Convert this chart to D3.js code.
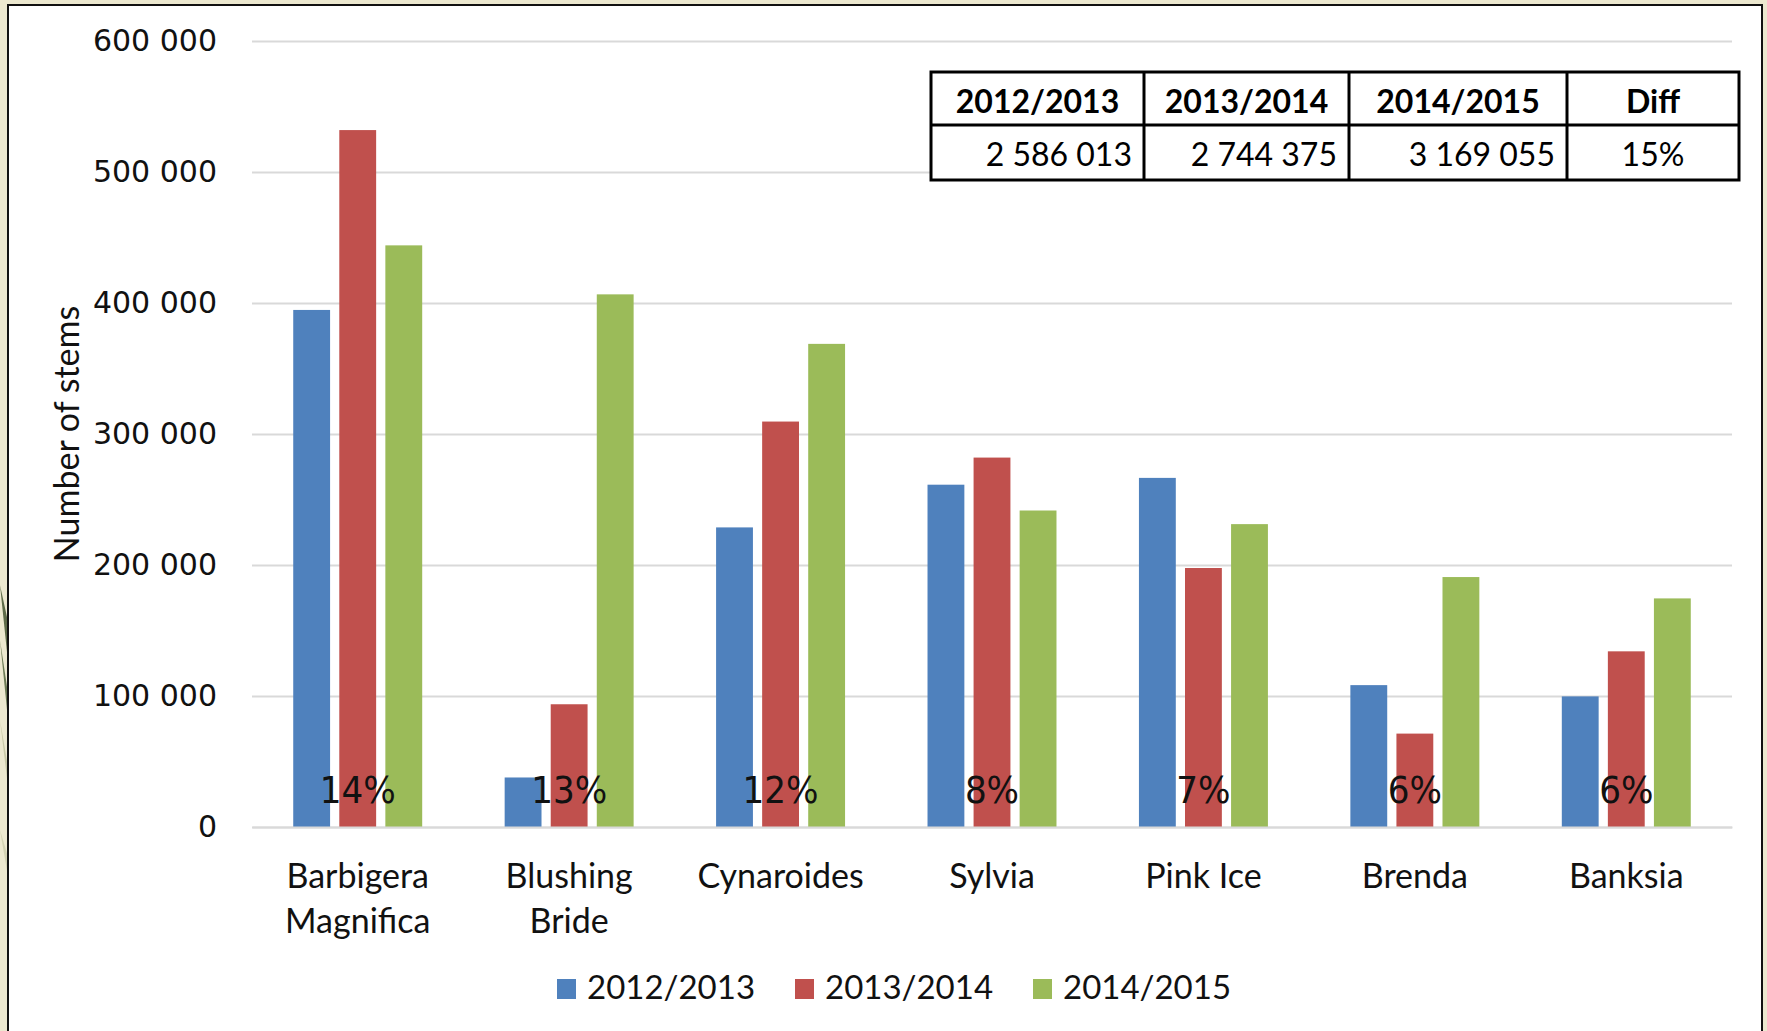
<!DOCTYPE html>
<html>
<head>
<meta charset="utf-8">
<script src="https://cdn.jsdelivr.net/npm/d3@7"></script>
<style>
  html, body { margin: 0; padding: 0; background: #ece8cf; overflow: hidden; }
  svg { display: block; }
</style>
</head>
<body>
<svg id="chart"></svg>
<script>
// data
const categories = ['Barbigera Magnifica', 'Blushing Bride', 'Cynaroides', 'Sylvia', 'Pink Ice', 'Brenda', 'Banksia']
const seriesNames = ['2012/2013', '2013/2014', '2014/2015']
const values2012 = [394700, 37800, 228700, 261300, 266500, 108300, 99700]
const values2013 = [532000, 93700, 309500, 282000, 197700, 71300, 134100]
const values2014 = [444000, 406600, 368800, 241600, 231200, 190800, 174500]
const pctLabels = ['14%', '13%', '12%', '8%', '7%', '6%', '6%']
const yTicks = [0, 100000, 200000, 300000, 400000, 500000, 600000]
const tableHeaders = ['2012/2013', '2013/2014', '2014/2015', 'Diff']
const tableValues = ['2 586 013', '2 744 375', '3 169 055', '15%']
const colors = ['#4f81bd', '#c0504d', '#9bbb59']

const width = 1767, height = 1031
const padding = {top: 41, bottom: 204, left: 252, right: 35}

const svg = d3.select('#chart').attr('width', width).attr('height', height)

// background leaves peeking at the left edge
const leaves = svg.append('g')
leaves.append('path').attr('d', 'M0,585 L12,640 L12,700 Z').attr('fill', '#5e6b49')
leaves.append('path').attr('d', 'M0,640 L12,720 L12,760 Z').attr('fill', '#6c7a55')
leaves.append('path').attr('d', 'M0,720 L12,790 L12,820 Z').attr('fill', '#c9c9a8')
leaves.append('path').attr('d', 'M0,830 L12,870 L12,900 Z').attr('fill', '#d3d2b3')

// chart frame
svg.append('rect')
  .attr('x', 8).attr('y', 5)
  .attr('width', 1754).attr('height', 1040)
  .attr('fill', '#fff').attr('stroke', '#111').attr('stroke-width', 2)

const data = categories.map((c, i) => ({
  category: c,
  values: [values2012[i], values2013[i], values2014[i]]
}))

const x0 = d3.scaleBand().domain(categories).range([padding.left, width - padding.right])
const bw = x0.bandwidth()
const x1 = d3.scaleBand().domain(seriesNames).range([bw * 0.195, bw * 0.805]).paddingInner(0.2)
const y = d3.scaleLinear().domain([0, 600000]).range([height - padding.bottom, padding.top])

const locale = d3.formatLocale({decimal: '.', thousands: ' ', grouping: [3], currency: ['', '']})
const fmt = locale.format(',')

// y axis with grid lines
const yAxis = d3.axisLeft(y).tickValues(yTicks).tickFormat(fmt)
  .tickSize(-(width - padding.left - padding.right)).tickPadding(35)
const yAxisG = svg.append('g').attr('class', 'y-axis')
  .attr('transform', `translate(${padding.left},0)`).call(yAxis)
yAxisG.select('.domain').remove()
yAxisG.selectAll('line').attr('stroke', '#d9d9d9').attr('stroke-width', 2)
yAxisG.selectAll('text')
  .attr('font-family', 'DejaVu Sans').attr('font-size', 30).attr('fill', '#111')

// bars
const groups = svg.selectAll('.group').data(data)
  .enter().append('g')
  .attr('class', 'group')
  .attr('transform', d => `translate(${x0(d.category)},0)`)

groups.selectAll('rect')
  .data(d => d.values.map((v, i) => ({key: seriesNames[i], value: v, i})))
  .enter().append('rect')
  .attr('x', d => x1(d.key))
  .attr('width', x1.bandwidth())
  .attr('y', d => y(d.value))
  .attr('height', d => y(0) - y(d.value))
  .attr('fill', d => colors[d.i])

// percentage labels
svg.append('g').selectAll('text').data(pctLabels)
  .enter().append('text')
  .attr('x', (d, i) => x0(categories[i]) + bw / 2)
  .attr('y', y(0) - 24)
  .attr('text-anchor', 'middle')
  .attr('font-family', 'DejaVu Sans Condensed, DejaVu Sans')
  .attr('font-stretch', 'condensed')
  .attr('font-weight', 200)
  .attr('font-size', 38)
  .attr('fill', '#111')
  .text(d => d)

// x axis labels
const xAxis = d3.axisBottom(x0).tickSize(0).tickPadding(0)
const xAxisG = svg.append('g').attr('class', 'x-axis')
  .attr('transform', `translate(0,${y(0)})`).call(xAxis)
xAxisG.select('.domain').attr('stroke', '#d9d9d9').attr('stroke-width', 2)
xAxisG.selectAll('text')
  .attr('font-family', 'Lato').attr('font-size', 34).attr('fill', '#111')
  .attr('dy', null).attr('y', 60)
  .each(function(d) {
    const t = d3.select(this)
    const words = d.split(' ')
    t.text(null)
    if (d === 'Pink Ice') {
      t.append('tspan').attr('x', 0).attr('y', 61).text(d)
    } else {
      words.forEach((w, i) => {
        t.append('tspan').attr('x', 0).attr('y', 61 + i * 45).text(w)
      })
    }
  })

// y axis title
svg.append('text')
  .attr('transform', `translate(79,${(padding.top + y(0)) / 2}) rotate(-90)`)
  .attr('text-anchor', 'middle')
  .attr('font-family', 'Lato').attr('font-size', 34).attr('fill', '#111')
  .text('Number of stems')

// legend
const legend = svg.append('g').attr('transform', 'translate(557,979)')
const items = legend.selectAll('g').data(seriesNames)
  .enter().append('g')
  .attr('transform', (d, i) => `translate(${i * 238},0)`)
items.append('rect').attr('width', 19).attr('height', 20).attr('fill', (d, i) => colors[i])
items.append('text').attr('x', 30).attr('y', 20)
  .attr('font-family', 'Lato').attr('font-size', 33).attr('fill', '#111')
  .text(d => d)

// summary table
const colX = [931, 1144, 1349, 1567, 1739]
const rowY = [72, 125, 180]
const table = svg.append('g')
table.append('rect')
  .attr('x', colX[0]).attr('y', rowY[0])
  .attr('width', colX[4] - colX[0]).attr('height', rowY[2] - rowY[0])
  .attr('fill', '#fff').attr('stroke', '#000').attr('stroke-width', 3)
table.append('line').attr('x1', colX[0]).attr('x2', colX[4]).attr('y1', rowY[1]).attr('y2', rowY[1])
  .attr('stroke', '#000').attr('stroke-width', 3)
colX.slice(1, 4).forEach(cx => {
  table.append('line').attr('x1', cx).attr('x2', cx).attr('y1', rowY[0]).attr('y2', rowY[2])
    .attr('stroke', '#000').attr('stroke-width', 3)
})
table.selectAll('.th').data(tableHeaders)
  .enter().append('text')
  .attr('x', (d, i) => (colX[i] + colX[i + 1]) / 2)
  .attr('y', 113)
  .attr('text-anchor', 'middle')
  .attr('font-family', 'Lato').attr('font-weight', 'bold').attr('font-size', 32).attr('fill', '#000')
  .text(d => d)
table.selectAll('.td').data(tableValues)
  .enter().append('text')
  .attr('x', (d, i) => i < 3 ? colX[i + 1] - 12 : (colX[i] + colX[i + 1]) / 2)
  .attr('y', 166)
  .attr('text-anchor', (d, i) => i < 3 ? 'end' : 'middle')
  .attr('font-family', 'Lato').attr('font-size', 32).attr('fill', '#000')
  .text(d => d)
</script>
</body>
</html>
